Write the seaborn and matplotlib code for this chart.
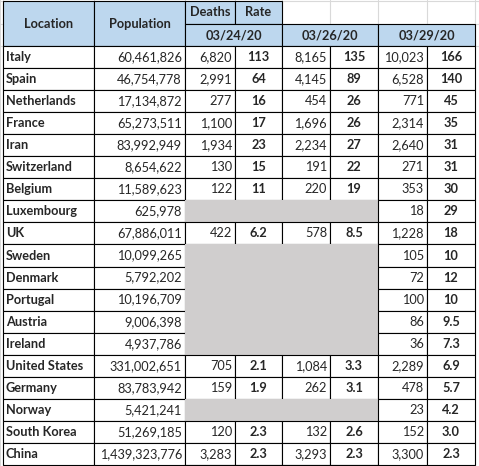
import matplotlib
matplotlib.use("Agg")
import matplotlib.pyplot as plt
import seaborn as sns
from matplotlib.patches import Rectangle

sns.set_theme(style="white")
plt.rcParams['font.family'] = ['Lato', 'DejaVu Sans']

locations = ["Italy", "Spain", "Netherlands", "France", "Iran", "Switzerland", "Belgium",
             "Luxembourg", "UK", "Sweden", "Denmark", "Portugal", "Austria", "Ireland",
             "United States", "Germany", "Norway", "South Korea", "China"]
population = [60461826, 46754778, 17134872, 65273511, 83992949, 8654622, 11589623,
              625978, 67886011, 10099265, 5792202, 10196709, 9006398, 4937786,
              331002651, 83783942, 5421241, 51269185, 1439323776]
dates = ["03/24/20", "03/26/20", "03/29/20"]
deaths_0324 = [6820, 2991, 277, 1100, 1934, 130, 122, None, 422, None, None, None, None, None, 705, 159, None, 120, 3283]
rate_0324 = ["113", "64", "16", "17", "23", "15", "11", None, "6.2", None, None, None, None, None, "2.1", "1.9", None, "2.3", "2.3"]
deaths_0326 = [8165, 4145, 454, 1696, 2234, 191, 220, None, 578, None, None, None, None, None, 1084, 262, None, 132, 3293]
rate_0326 = ["135", "89", "26", "26", "27", "22", "19", None, "8.5", None, None, None, None, None, "3.3", "3.1", None, "2.6", "2.3"]
deaths_0329 = [10023, 6528, 771, 2314, 2640, 271, 353, 18, 1228, 105, 72, 100, 86, 36, 2289, 478, 23, 152, 3300]
rate_0329 = ["166", "140", "45", "35", "31", "31", "30", "29", "18", "10", "12", "10", "9.5", "7.3", "6.9", "5.7", "4.2", "3.0", "2.3"]

W, H = 479, 466
fig = plt.figure(figsize=(W / 100, H / 100), dpi=100)
ax = fig.add_axes([0, 0, 1, 1])
ax.set_xlim(0, W)
ax.set_ylim(H, 0)
ax.axis("off")

cols = [3, 94, 185, 235, 282, 330, 378, 427, 475]
hdr = [1, 24, 46]
row_h = (H - 1 - hdr[2]) / len(locations)
blue = "#BDD7EE"
grey = "#D0CECE"
fs = 9.2

# light excel gridlines in the background
for x in cols + [0]:
    ax.plot([x, x], [0, H], color="#D9D9D9", lw=0.8, zorder=0)
for y in hdr:
    ax.plot([0, W], [y, y], color="#D9D9D9", lw=0.8, zorder=0)

def cell(x0, x1, y0, y1, fc="white", ec="black"):
    ax.add_patch(Rectangle((x0, y0), x1 - x0, y1 - y0, facecolor=fc, edgecolor=ec, lw=0.8, zorder=2))

# header
cell(cols[0], cols[1], hdr[0], hdr[2], blue)
cell(cols[1], cols[2], hdr[0], hdr[2], blue)
cell(cols[2], cols[3], hdr[0], hdr[1], blue)
cell(cols[3], cols[4], hdr[0], hdr[1], blue)
ax.text((cols[0] + cols[1]) / 2, (hdr[0] + hdr[2]) / 2, "Location", ha="center", va="center", fontsize=fs, fontweight="bold", zorder=3)
ax.text((cols[1] + cols[2]) / 2, (hdr[0] + hdr[2]) / 2, "Population", ha="center", va="center", fontsize=fs, fontweight="bold", zorder=3)
ax.text((cols[2] + cols[3]) / 2, (hdr[0] + hdr[1]) / 2, "Deaths", ha="center", va="center", fontsize=fs, fontweight="bold", zorder=3)
ax.text((cols[3] + cols[4]) / 2, (hdr[0] + hdr[1]) / 2, "Rate", ha="center", va="center", fontsize=fs, fontweight="bold", zorder=3)
for i, d in enumerate(dates):
    x0, x1 = cols[2 + 2 * i], cols[4 + 2 * i]
    cell(x0, x1, hdr[1], hdr[2], blue)
    ax.text((x0 + x1) / 2, (hdr[1] + hdr[2]) / 2, d, ha="center", va="center", fontsize=fs, fontweight="bold", zorder=3)

blocks = [(deaths_0324, rate_0324), (deaths_0326, rate_0326), (deaths_0329, rate_0329)]
for r, loc in enumerate(locations):
    y0 = hdr[2] + r * row_h
    y1 = y0 + row_h
    yc = (y0 + y1) / 2
    cell(cols[0], cols[1], y0, y1)
    ax.text(cols[0] + 3, yc, loc, ha="left", va="center", fontsize=fs, fontweight="bold", zorder=3)
    cell(cols[1], cols[2], y0, y1)
    ax.text(cols[2] - 3, yc, f"{population[r]:,}", ha="right", va="center", fontsize=fs, zorder=3)
    for i, (dth, rt) in enumerate(blocks):
        xd0, xd1, xr1 = cols[2 + 2 * i], cols[3 + 2 * i], cols[4 + 2 * i]
        if dth[r] is None:
            ax.add_patch(Rectangle((xd0, y0), xr1 - xd0, row_h, facecolor=grey, edgecolor="none", zorder=2))
            continue
        cell(xd0, xd1, y0, y1)
        cell(xd1, xr1, y0, y1)
        ax.text(xd1 - 3, yc, f"{dth[r]:,}", ha="right", va="center", fontsize=fs, zorder=3)
        ax.text((xd1 + xr1) / 2, yc, rt[r], ha="center", va="center", fontsize=fs, fontweight="bold", zorder=3)
ax.plot([cols[2], cols[6]], [H - 1, H - 1], color="black", lw=0.8, zorder=3)

fig.savefig("out.png", dpi=100)
